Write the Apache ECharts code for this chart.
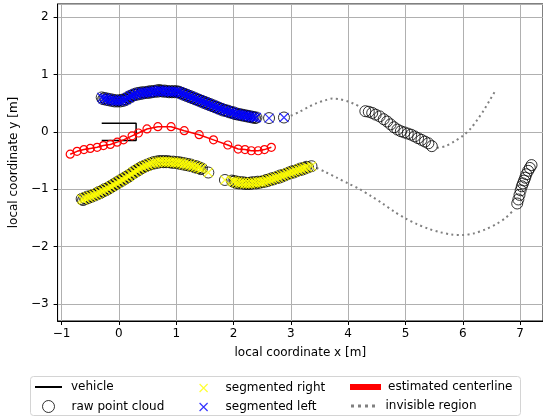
<!DOCTYPE html>
<html>
<head>
<meta charset="utf-8">
<script src="https://cdn.jsdelivr.net/npm/echarts@6/dist/echarts.min.js"></script>
<style>
  html, body { margin: 0; padding: 0; background: #fff; }
  #chart { width: 543px; height: 417px; }
</style>
</head>
<body>
<div id="chart"></div>
<script>
// vehicle outline (local frame)
var vehicle = [[-0.3, 0.15], [0.3, 0.15], [0.3, -0.15], [-0.3, -0.15]];

// left boundary points (segmented left)
var leftPts = [
  [-0.30, 0.60], [-0.275, 0.57], [-0.25, 0.59], [-0.225, 0.56], [-0.20, 0.58], [-0.175, 0.55],
  [-0.15, 0.57], [-0.125, 0.54], [-0.10, 0.56], [-0.075, 0.53], [-0.05, 0.55], [-0.025, 0.53],
  [0.00, 0.55], [0.025, 0.53], [0.05, 0.56], [0.075, 0.54], [0.10, 0.57], [0.125, 0.56],
  [0.15, 0.60], [0.175, 0.59], [0.20, 0.63], [0.225, 0.62], [0.25, 0.65], [0.275, 0.64],
  [0.30, 0.67], [0.325, 0.65], [0.35, 0.68], [0.375, 0.66], [0.40, 0.69], [0.425, 0.67],
  [0.45, 0.69], [0.475, 0.68], [0.50, 0.70], [0.525, 0.68], [0.55, 0.71], [0.575, 0.69],
  [0.60, 0.71], [0.625, 0.70], [0.65, 0.72], [0.675, 0.70], [0.70, 0.73], [0.725, 0.71],
  [0.75, 0.72], [0.775, 0.70], [0.80, 0.72], [0.825, 0.70], [0.85, 0.71], [0.875, 0.69],
  [0.90, 0.71], [0.925, 0.69], [0.95, 0.71], [0.975, 0.69], [1.00, 0.71], [1.025, 0.69],
  [1.05, 0.70], [1.075, 0.67], [1.10, 0.68], [1.125, 0.65], [1.15, 0.66], [1.175, 0.63],
  [1.20, 0.64], [1.225, 0.61], [1.25, 0.62], [1.275, 0.59], [1.30, 0.60], [1.325, 0.57],
  [1.35, 0.58], [1.375, 0.55], [1.40, 0.56], [1.425, 0.53], [1.45, 0.54], [1.475, 0.51],
  [1.50, 0.52], [1.525, 0.49], [1.55, 0.50], [1.575, 0.47], [1.60, 0.48], [1.625, 0.45],
  [1.65, 0.46], [1.675, 0.43], [1.70, 0.44], [1.725, 0.41], [1.75, 0.42], [1.775, 0.39],
  [1.80, 0.40], [1.825, 0.37], [1.85, 0.38], [1.875, 0.36], [1.90, 0.37], [1.925, 0.34],
  [1.95, 0.35], [1.975, 0.33], [2.00, 0.34], [2.025, 0.31], [2.05, 0.32], [2.075, 0.30],
  [2.10, 0.31], [2.125, 0.29], [2.15, 0.30], [2.175, 0.28], [2.20, 0.29], [2.225, 0.27],
  [2.25, 0.28], [2.275, 0.26], [2.30, 0.27], [2.325, 0.25], [2.35, 0.26], [2.375, 0.24],
  [2.40, 0.25], [2.62, 0.24], [2.88, 0.25]
];

// right boundary points (segmented right), two pieces
var rightPtsA = [
  [-0.65, -1.17], [-0.625, -1.19], [-0.60, -1.15], [-0.575, -1.17], [-0.55, -1.13], [-0.525, -1.15],
  [-0.50, -1.12], [-0.475, -1.13], [-0.45, -1.10], [-0.425, -1.11], [-0.40, -1.08], [-0.375, -1.09],
  [-0.35, -1.05], [-0.325, -1.07], [-0.30, -1.03], [-0.275, -1.04], [-0.25, -1.00], [-0.225, -1.02],
  [-0.20, -0.98], [-0.175, -0.99], [-0.15, -0.95], [-0.125, -0.96], [-0.10, -0.92], [-0.075, -0.93],
  [-0.05, -0.89], [-0.025, -0.90], [0.00, -0.86], [0.025, -0.87], [0.05, -0.83], [0.075, -0.84],
  [0.10, -0.80], [0.125, -0.81], [0.15, -0.77], [0.175, -0.78], [0.20, -0.74], [0.225, -0.74],
  [0.25, -0.70], [0.275, -0.71], [0.30, -0.67], [0.325, -0.68], [0.35, -0.64], [0.375, -0.65],
  [0.40, -0.61], [0.425, -0.62], [0.45, -0.59], [0.475, -0.60], [0.50, -0.57], [0.525, -0.58],
  [0.55, -0.55], [0.575, -0.56], [0.60, -0.53], [0.625, -0.55], [0.65, -0.52], [0.675, -0.54],
  [0.70, -0.51], [0.725, -0.53], [0.75, -0.51], [0.775, -0.53], [0.80, -0.51], [0.825, -0.53],
  [0.85, -0.51], [0.875, -0.53], [0.90, -0.52], [0.925, -0.54], [0.95, -0.52], [0.975, -0.54],
  [1.00, -0.53], [1.025, -0.55], [1.05, -0.53], [1.075, -0.56], [1.10, -0.54], [1.125, -0.57],
  [1.15, -0.55], [1.175, -0.58], [1.20, -0.56], [1.225, -0.59], [1.25, -0.57], [1.275, -0.60],
  [1.30, -0.59], [1.325, -0.62], [1.35, -0.60], [1.375, -0.63], [1.40, -0.62], [1.425, -0.65],
  [1.45, -0.64], [1.56, -0.71]
];
var rightPtsB = [
  [1.85, -0.84], [1.97, -0.85], [1.995, -0.87], [2.02, -0.86], [2.045, -0.89], [2.07, -0.87],
  [2.095, -0.90], [2.12, -0.88], [2.145, -0.90], [2.17, -0.88], [2.195, -0.91], [2.22, -0.89],
  [2.245, -0.91], [2.27, -0.89], [2.295, -0.91], [2.32, -0.88], [2.345, -0.90], [2.37, -0.88],
  [2.395, -0.90], [2.42, -0.87], [2.445, -0.89], [2.47, -0.87], [2.495, -0.88], [2.52, -0.86],
  [2.545, -0.87], [2.57, -0.84], [2.595, -0.86], [2.62, -0.83], [2.645, -0.84], [2.67, -0.81],
  [2.695, -0.83], [2.72, -0.80], [2.745, -0.81], [2.77, -0.78], [2.795, -0.80], [2.82, -0.76],
  [2.845, -0.78], [2.87, -0.75], [2.895, -0.76], [2.92, -0.73], [2.945, -0.74], [2.97, -0.71],
  [2.995, -0.72], [3.02, -0.69], [3.045, -0.71], [3.07, -0.68], [3.095, -0.69], [3.12, -0.66],
  [3.145, -0.67], [3.17, -0.64], [3.195, -0.66], [3.22, -0.63], [3.245, -0.64], [3.27, -0.61],
  [3.30, -0.62], [3.36, -0.60]
];

// raw points that were not segmented
var farPtsA = [
  [4.30, 0.36], [4.36, 0.35], [4.42, 0.33], [4.48, 0.30], [4.55, 0.27], [4.62, 0.22],
  [4.68, 0.18], [4.74, 0.13], [4.80, 0.08], [4.86, 0.04], [4.92, 0.01], [4.98, -0.01],
  [5.04, -0.03], [5.10, -0.05], [5.16, -0.08], [5.22, -0.11], [5.28, -0.14], [5.34, -0.17],
  [5.40, -0.20], [5.46, -0.25]
];
var farPtsB = [
  [6.95, -1.25], [6.97, -1.18], [6.99, -1.10], [7.01, -1.02], [7.03, -0.95], [7.05, -0.90],
  [7.07, -0.85], [7.09, -0.80], [7.11, -0.74], [7.14, -0.68], [7.17, -0.63], [7.20, -0.58]
];

// estimated centerline
var centerline = [
  [-0.85, -0.39], [-0.73, -0.34], [-0.61, -0.31], [-0.50, -0.29], [-0.38, -0.27], [-0.27, -0.24],
  [-0.15, -0.22], [-0.03, -0.18], [0.08, -0.14], [0.23, -0.07], [0.34, -0.02], [0.49, 0.05],
  [0.68, 0.09], [0.91, 0.09], [1.14, 0.02], [1.40, -0.05], [1.65, -0.14], [1.90, -0.23],
  [2.08, -0.30], [2.20, -0.31], [2.31, -0.33], [2.43, -0.33], [2.54, -0.31], [2.66, -0.27]
];

// invisible region (dotted)
var invisLeftA = [
  [3.00, 0.28], [3.15, 0.35], [3.30, 0.43], [3.45, 0.50], [3.60, 0.55], [3.73, 0.58],
  [3.85, 0.57], [4.00, 0.53], [4.10, 0.49], [4.22, 0.43]
];
var invisLeftB = [
  [5.55, -0.28], [5.70, -0.25], [5.85, -0.17], [6.00, -0.07], [6.14, 0.06], [6.26, 0.22],
  [6.37, 0.38], [6.47, 0.55], [6.57, 0.72]
];
var invisRight = [
  [3.45, -0.63], [3.60, -0.70], [3.80, -0.80], [4.00, -0.90], [4.20, -1.00], [4.40, -1.12],
  [4.60, -1.25], [4.80, -1.39], [5.00, -1.51], [5.20, -1.61], [5.40, -1.69], [5.60, -1.75],
  [5.80, -1.79], [6.00, -1.80], [6.20, -1.77], [6.40, -1.70], [6.60, -1.60], [6.75, -1.50],
  [6.90, -1.35]
];

var rawCloud = [].concat(leftPts, rightPtsA, rightPtsB, farPtsA, farPtsB);
var rightPts = [].concat(rightPtsA, rightPtsB);

var X_ICON = 'path://M0,0L10,10M10,0L0,10';
var DOTS_ICON = 'path://M0,0h3v3h-3zM7,0h3v3h-3zM14,0h3v3h-3zM21,0h3v3h-3z';
var FONT = 'DejaVu Sans';

function minus(v) {
  return String(v).replace('-', '\u2212');
}

function legendAt(left, top, name, icon, w, h, pad, itemStyle) {
  var item = { name: name, icon: icon };
  if (itemStyle) item.itemStyle = itemStyle;
  return {
    left: left, top: top,
    orient: 'horizontal',
    selectedMode: false,
    itemWidth: w, itemHeight: h,
    padding: 0,
    textStyle: { fontFamily: FONT, fontSize: 12, color: '#000', padding: [0, 0, 0, pad] },
    data: [item]
  };
}

var chart = echarts.init(document.getElementById('chart'));
var dotted = { color: '#808080', width: 2, type: [2, 3.4], cap: 'butt' };

chart.setOption({
  animation: false,
  backgroundColor: '#fff',
  grid: { left: 56, top: 4, right: 0, bottom: 96, show: true, borderColor: '#000', borderWidth: 1 },
  xAxis: {
    type: 'value', min: -1.07, max: 7.4, splitNumber: 8,
    name: 'local coordinate x [m]', nameLocation: 'middle', nameGap: 26,
    nameTextStyle: { fontFamily: FONT, fontSize: 12, color: '#000' },
    axisLine: { onZero: false, lineStyle: { color: '#000', width: 1 } },
    axisTick: { show: true, length: 4, lineStyle: { color: '#000' } },
    axisLabel: { fontFamily: FONT, fontSize: 12, color: '#000', margin: 7,
      showMinLabel: false, showMaxLabel: false, formatter: minus },
    splitLine: { show: true, lineStyle: { color: '#b0b0b0', width: 1 } }
  },
  yAxis: {
    type: 'value', min: -3.3, max: 2.23, splitNumber: 5,
    name: 'local coordinate y [m]', nameLocation: 'middle', nameGap: 31,
    nameTextStyle: { fontFamily: FONT, fontSize: 12, color: '#000' },
    axisLine: { show: true, onZero: false, lineStyle: { color: '#000', width: 1 } },
    axisTick: { show: true, length: 4, lineStyle: { color: '#000' } },
    axisLabel: { fontFamily: FONT, fontSize: 12, color: '#000', margin: 9,
      showMinLabel: false, showMaxLabel: false, formatter: minus },
    splitLine: { show: true, lineStyle: { color: '#b0b0b0', width: 1 } }
  },
  graphic: [{
    type: 'rect', z: -1,
    shape: { x: 30.5, y: 376.5, width: 490, height: 39, r: 3 },
    style: { fill: '#fff', stroke: '#d4d4d4', lineWidth: 1 }
  }],
  legend: [
    legendAt(35, 381, 'vehicle', 'rect', 27, 2, 4, { color: '#000' }),
    legendAt(42, 400, 'raw point cloud', 'circle', 12, 12, 12,
      { color: 'rgba(0,0,0,0)', borderColor: '#000', borderWidth: 1 }),
    legendAt(199, 382, 'segmented right', X_ICON, 8, 8, 13,
      { color: 'rgba(0,0,0,0)', borderColor: '#ffff00', borderWidth: 1.2 }),
    legendAt(199, 401, 'segmented left', X_ICON, 8, 8, 13,
      { color: 'rgba(0,0,0,0)', borderColor: '#0000ff', borderWidth: 1.2 }),
    legendAt(350, 381, 'estimated centerline', 'rect', 29, 4, 3, { color: '#ff0000' }),
    legendAt(351, 400, 'invisible region', DOTS_ICON, 25, 3, 5, { color: '#808080' })
  ],
  series: [
    {
      name: 'vehicle', type: 'line', data: vehicle, symbol: 'none', z: 1,
      lineStyle: { color: '#000', width: 1.5 }, itemStyle: { color: '#000' }
    },
    {
      name: 'raw point cloud', type: 'scatter', data: rawCloud, symbol: 'circle', symbolSize: 11, z: 2,
      itemStyle: { color: 'rgba(0,0,0,0)', borderColor: '#000', borderWidth: 1 }
    },
    {
      name: 'segmented right', type: 'scatter', data: rightPts, symbol: X_ICON, symbolSize: 9, z: 3,
      itemStyle: { color: 'rgba(0,0,0,0)', borderColor: '#ffff00', borderWidth: 1.2 }
    },
    {
      name: 'segmented left', type: 'scatter', data: leftPts, symbol: X_ICON, symbolSize: 9, z: 3,
      itemStyle: { color: 'rgba(0,0,0,0)', borderColor: '#0000ff', borderWidth: 1.2 }
    },
    {
      name: 'estimated centerline', type: 'line', data: centerline, z: 4,
      symbol: 'circle', symbolSize: 8, showAllSymbol: true,
      lineStyle: { color: '#ff0000', width: 1.5 },
      itemStyle: { color: 'rgba(0,0,0,0)', borderColor: '#ff0000', borderWidth: 1.2 }
    },
    { name: 'invisible region', type: 'line', data: invisLeftA, symbol: 'none', smooth: 0.3, z: 2, lineStyle: dotted, itemStyle: { color: '#808080' } },
    { name: 'invisible region', type: 'line', data: invisLeftB, symbol: 'none', smooth: 0.3, z: 2, lineStyle: dotted, itemStyle: { color: '#808080' } },
    { name: 'invisible region', type: 'line', data: invisRight, symbol: 'none', smooth: 0.3, z: 2, lineStyle: dotted, itemStyle: { color: '#808080' } }
  ]
});
</script>
</body>
</html>
